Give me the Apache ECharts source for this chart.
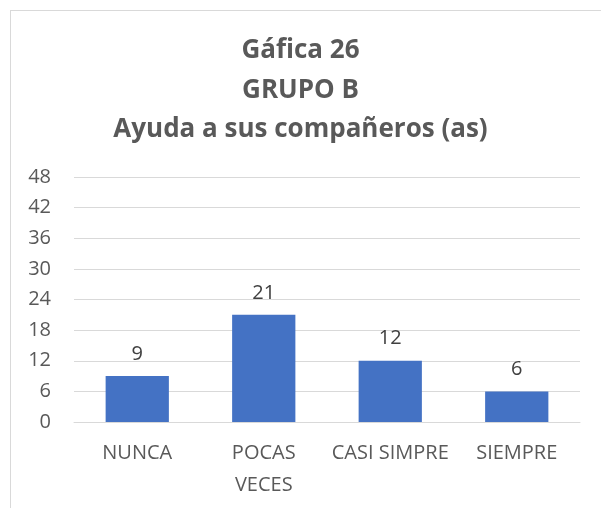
<!DOCTYPE html>
<html>
<head>
<meta charset="utf-8">
<script src="https://cdn.jsdelivr.net/npm/echarts@6/dist/echarts.min.js"></script>
<style>
  html, body { margin: 0; padding: 0; background: #fff; }
  #frame {
    position: absolute;
    left: 10px;
    top: 10px;
    width: 620px;
    height: 520px;
    border: 1px solid #d9d9d9;
  }
  #main {
    position: absolute;
    left: 0;
    top: 0;
    width: 601px;
    height: 508px;
  }
</style>
</head>
<body>
<div id="frame"></div>
<div id="main"></div>
<script>
  // datos de la grafica
  var titulo = ['Gáfica 26', 'GRUPO B', 'Ayuda a sus compañeros (as)'];
  var categorias = ['NUNCA', 'POCAS\nVECES', 'CASI SIMPRE', 'SIEMPRE'];
  var valores = [9, 21, 12, 6];
  var ejeMin = 0;
  var ejeMax = 48;
  var ejePaso = 6;

  var fuente = '"Open Sans", sans-serif';
  var gris = '#595959';

  var chart = echarts.init(document.getElementById('main'));
  chart.setOption({
    animation: false,
    title: {
      text: titulo.join('\n'),
      left: 'center',
      top: 26,
      textStyle: {
        fontFamily: fuente,
        fontSize: 26,
        fontWeight: 'bold',
        color: gris,
        lineHeight: 39.5
      }
    },
    grid: {
      left: 74,
      right: 21,
      top: 177,
      bottom: 86,
      containLabel: false
    },
    xAxis: {
      type: 'category',
      data: categorias,
      axisLine: { show: true, lineStyle: { color: '#d9d9d9', width: 1 } },
      axisTick: { show: false },
      axisLabel: {
        color: gris,
        fontFamily: fuente,
        fontSize: 20,
        margin: 15,
        lineHeight: 32,
        interval: 0
      }
    },
    yAxis: {
      type: 'value',
      min: ejeMin,
      max: ejeMax,
      interval: ejePaso,
      axisLine: { show: false },
      axisTick: { show: false },
      splitLine: { lineStyle: { color: '#d9d9d9', width: 1 } },
      axisLabel: {
        color: gris,
        fontFamily: fuente,
        fontSize: 20,
        margin: 23
      }
    },
    series: [{
      type: 'bar',
      data: valores,
      barWidth: '50%',
      itemStyle: { color: '#4472C4' },
      label: {
        show: true,
        position: 'top',
        distance: 12,
        color: '#404040',
        fontFamily: fuente,
        fontSize: 20
      }
    }]
  });
</script>
</body>
</html>
